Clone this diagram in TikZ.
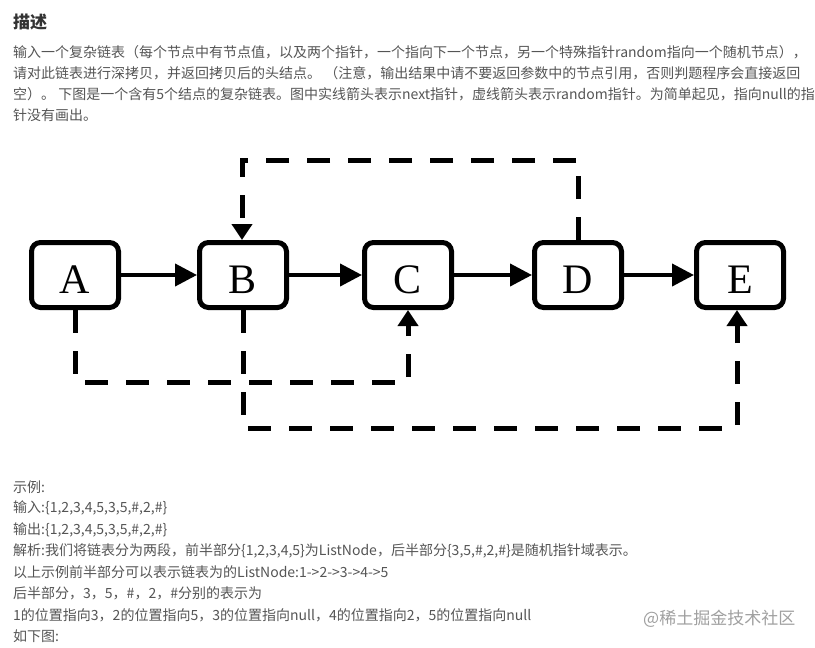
\documentclass[tikz,border=0pt]{standalone}
\usepackage{fontspec}
\setmainfont{Liberation Serif}
\newfontfamily\cjk{Noto Sans CJK SC}
\usetikzlibrary{arrows.meta}
\definecolor{bodytxt}{HTML}{555555}
\definecolor{titletxt}{HTML}{333333}
\definecolor{wmark}{HTML}{A0A0A0}
\begin{document}
\begin{tikzpicture}[x=1pt,y=-1pt,
  lnode/.style={draw, line width=5pt, rounded corners=9pt, minimum width=87pt,
    minimum height=65pt, inner sep=0pt, text height=36pt, text depth=0pt,
    font=\fontsize{42}{42}\selectfont},
  nextarrow/.style={-{Triangle[length=22pt,width=22pt]}, line width=4pt},
  randarrow/.style={-{Triangle[length=16pt,width=20pt]}, line width=5pt,
    dash pattern=on 23pt off 18pt, line join=miter},
  bodyline/.style={anchor=west, inner sep=0pt, text=bodytxt,
    font=\cjk\fontsize{14}{14}\selectfont},
  titleline/.style={anchor=west, inner sep=0pt, text=titletxt,
    font=\cjk\bfseries\fontsize{17}{17}\selectfont},
  wm/.style={anchor=west, inner sep=0pt, text=wmark,
    font=\cjk\fontsize{17}{17}\selectfont}]
\useasboundingbox[fill=white] (0,0) rectangle (815,648);

% heading and description
\node[titleline] (title) at (13,22) {描述};
\node[bodyline] (d1) at (13,52) {输入一个复杂链表（每个节点中有节点值，以及两个指针，一个指向下一个节点，另一个特殊指针random指向一个随机节点），};
\node[bodyline] (d2) at (13,73) {请对此链表进行深拷贝，并返回拷贝后的头结点。 （注意，输出结果中请不要返回参数中的节点引用，否则判题程序会直接返回};
\node[bodyline] (d3) at (13,94) {空）。 下图是一个含有5个结点的复杂链表。图中实线箭头表示next指针，虚线箭头表示random指针。为简单起见，指向null的指};
\node[bodyline] (d4) at (13,115) {针没有画出。};

% list nodes
\node[lnode] (A) at (75,275) {A};
\node[lnode] (B) at (243,275) {B};
\node[lnode] (C) at (408,275) {C};
\node[lnode] (D) at (578,275) {D};
\node[lnode] (E) at (740,275) {E};

% next pointers
\draw[nextarrow] (A) -- (B);
\draw[nextarrow] (B) -- (C);
\draw[nextarrow] (C) -- (D);
\draw[nextarrow] (D) -- (E);

% random pointers
\coordinate (ac) at (75,382);
\coordinate (be) at (243,428);
\coordinate (db) at (578,160);
\draw[randarrow] (A.south) -- (ac) -| (C.south);
\draw[randarrow] (B.south) -- (be) -| ([xshift=-3pt]E.south);
\draw[randarrow] (D.north) -- (db) -| ([xshift=-1pt]B.north);

% example text
\node[bodyline] (e1) at (13,487) {示例:};
\node[bodyline] (e2) at (13,508) {输入:\{1,2,3,4,5,3,5,\#,2,\#\}};
\node[bodyline] (e3) at (13,530) {输出:\{1,2,3,4,5,3,5,\#,2,\#\}};
\node[bodyline] (e4) at (13,551) {解析:我们将链表分为两段，前半部分\{1,2,3,4,5\}为ListNode，后半部分\{3,5,\#,2,\#\}是随机指针域表示。};
\node[bodyline] (e5) at (13,572) {以上示例前半部分可以表示链表为的ListNode:1->2->3->4->5};
\node[bodyline] (e6) at (13,593) {后半部分，3，5，\#，2，\#分别的表示为};
\node[bodyline] (e7) at (13,615) {1的位置指向3，2的位置指向5，3的位置指向null，4的位置指向2，5的位置指向null};
\node[bodyline] (e8) at (13,636) {如下图:};

% watermark
\node[wm] (w) at (643,619) {@稀土掘金技术社区};
\end{tikzpicture}
\end{document}
